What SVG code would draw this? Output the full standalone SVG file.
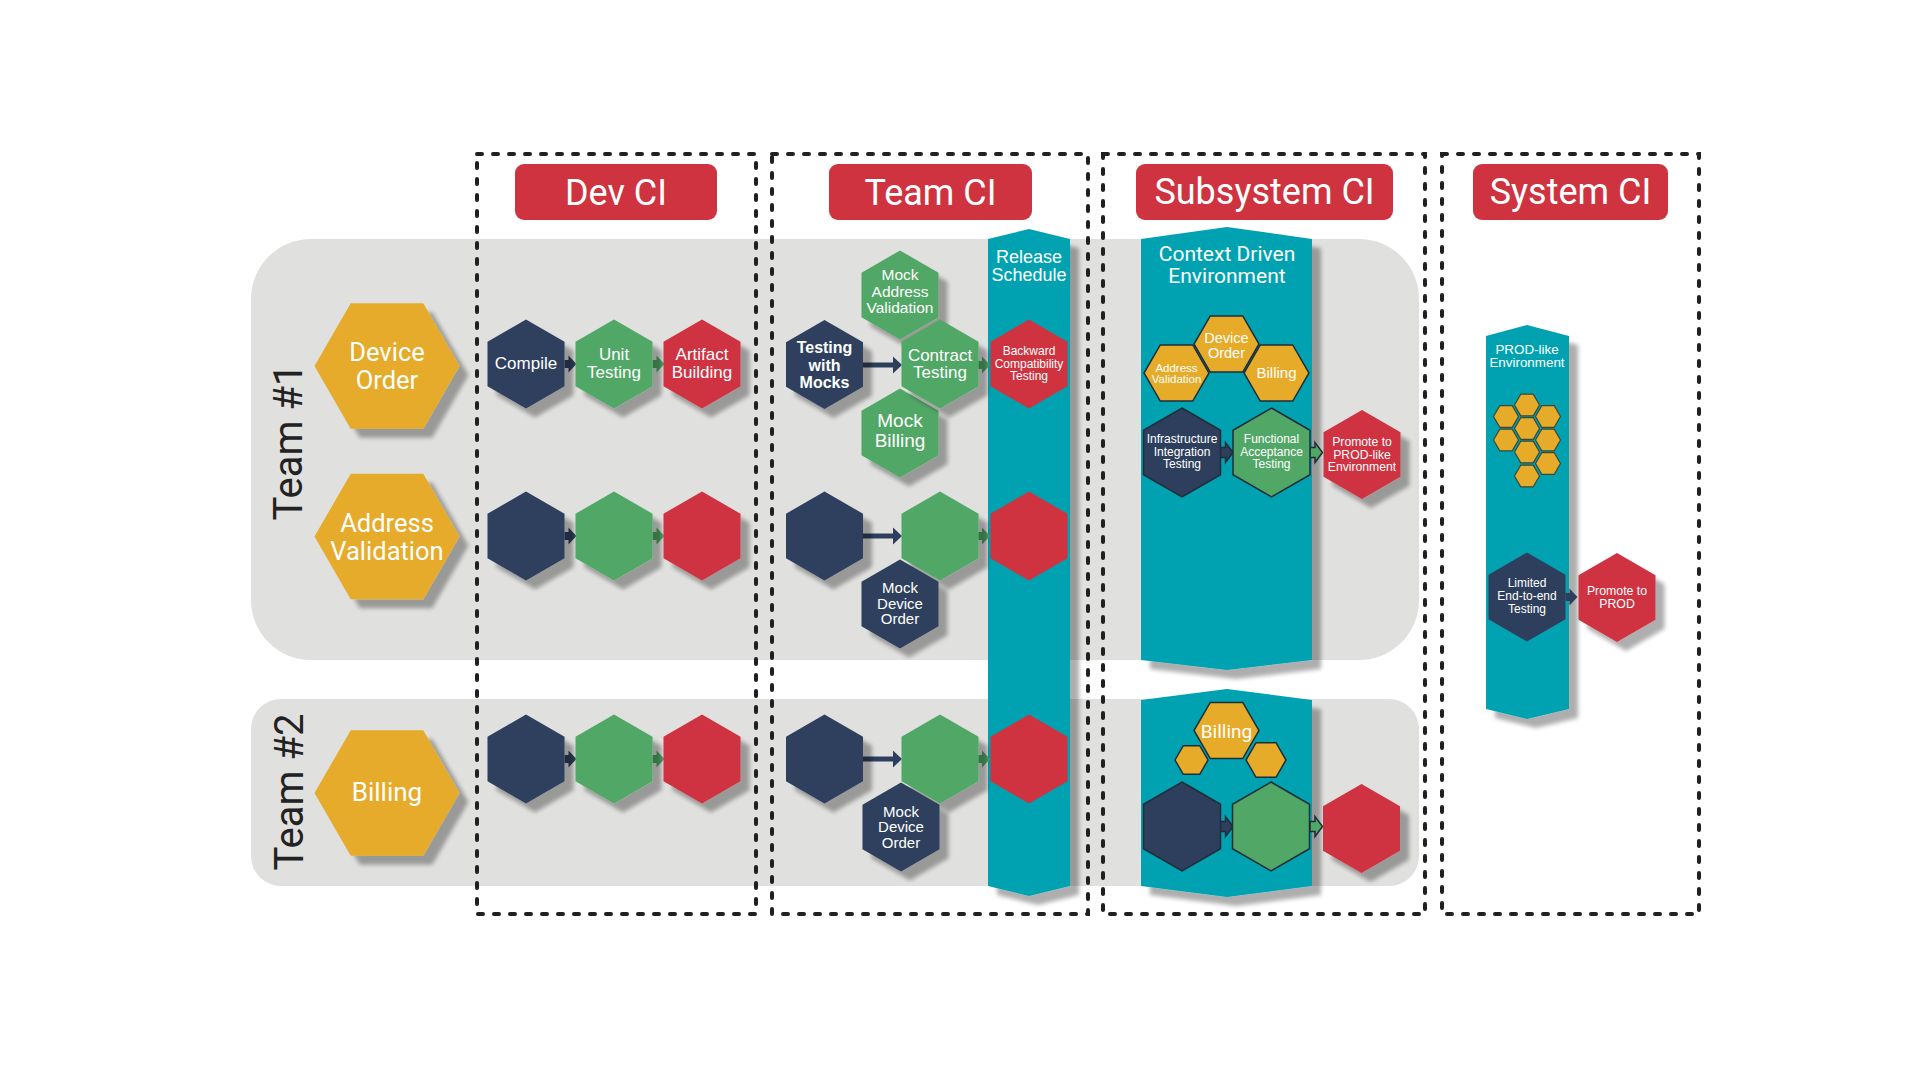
<svg xmlns="http://www.w3.org/2000/svg" xmlns:xlink="http://www.w3.org/1999/xlink" width="1920" height="1080" viewBox="0 0 1920 1080">
<style>
.navy{fill:#2e3f5d}
.green{fill:#51a766}
.red{fill:#cf3340}
.yellow{fill:#e6ab29}
.teal{fill:#00a2b2}
.panel{fill:#e0e0df}
.dot{fill:none;stroke:#1e2124;stroke-width:4;stroke-dasharray:5 11;stroke-linecap:round}
.ol{stroke:#1f2d38;stroke-width:1.5}
.olh{stroke:#3a4a3a;stroke-width:1.2}
.hdr{font-family:Roboto,"Liberation Sans",sans-serif;font-size:36px;fill:#fff;text-anchor:middle}
.team{font-family:Roboto,"Liberation Sans",sans-serif;font-size:40px;fill:#222;text-anchor:middle}
.rb{font-family:Roboto,"Liberation Sans",sans-serif;fill:#fff;text-anchor:middle}
.t{font-family:"Liberation Sans",Arial,sans-serif;fill:#fff;text-anchor:middle}
</style>
<defs>
<filter id="sh" x="-20%" y="-20%" width="160%" height="160%">
<feGaussianBlur in="SourceAlpha" stdDeviation="2.2"/>
<feOffset dx="9" dy="9"/>
<feComponentTransfer><feFuncA type="linear" slope="0.32"/></feComponentTransfer>
<feMerge><feMergeNode/><feMergeNode in="SourceGraphic"/></feMerge>
</filter>
<polygon id="hx" points="0,-44.5 38.5,-22.25 38.5,22.25 0,44.5 -38.5,22.25 -38.5,-22.25"/>
<polygon id="hbig" points="-72.5,0 -36.25,-62.8 36.25,-62.8 72.5,0 36.25,62.8 -36.25,62.8"/>
<polygon id="hy" points="-32.5,0 -16.25,-28.1 16.25,-28.1 32.5,0 16.25,28.1 -16.25,28.1"/>
<polygon id="hs" points="-12.5,0 -6.25,-10.8 6.25,-10.8 12.5,0 6.25,10.8 -6.25,10.8"/>
<polygon id="hs1" points="-16.5,0 -8.25,-14.3 8.25,-14.3 16.5,0 8.25,14.3 -8.25,14.3"/>
<polygon id="hs2" points="-20,0 -10,-17.3 10,-17.3 20,0 10,17.3 -10,17.3"/>
<path id="ba" d="M0,-4 H4 V-8.5 L12,0 L4,8.5 V4 H0 Z"/>
<path id="ba2" d="M0,-5 H5 V-10 L12.5,0 L5,10 V5 H0 Z"/>
</defs>

<g id="panels">
<rect class="panel" x="251" y="239" width="1168" height="421" rx="60"/>
<rect class="panel" x="251" y="699" width="1168" height="187" rx="30"/>
</g>

<g id="stages">
<rect class="dot" x="477" y="154" width="279" height="760"/>
<rect class="dot" x="772" y="154" width="316" height="760"/>
<rect class="dot" x="1103" y="154" width="322" height="760"/>
<rect class="dot" x="1442" y="154" width="257" height="760"/>
</g>

<g id="headers">
<g id="hdr-dev"><rect class="red" x="515" y="164" width="202" height="56" rx="9"/><text class="hdr" x="616" y="205">Dev CI</text></g>
<g id="hdr-team"><rect class="red" x="829" y="164" width="203" height="56" rx="9"/><text class="hdr" x="930.5" y="205">Team CI</text></g>
<g id="hdr-sub"><rect class="red" x="1136" y="164" width="257" height="56" rx="9"/><text class="hdr" x="1264.5" y="204">Subsystem CI</text></g>
<g id="hdr-sys"><rect class="red" x="1473" y="164" width="195" height="56" rx="9"/><text class="hdr" x="1570.5" y="204">System CI</text></g>
</g>

<g id="team-labels">
<text class="team" transform="translate(302,442) rotate(-90)">Team #1</text>
<text class="team" transform="translate(303,792) rotate(-90)">Team #2</text>
</g>

<g id="columns">
<g id="release-schedule">
<polygon class="teal" filter="url(#sh)" points="988,239 1029,229 1070,239 1070,886 1029,896 988,886"/>
<text class="t" font-size="18" x="1029" y="263">Release</text>
<text class="t" font-size="18" x="1029" y="281">Schedule</text>
</g>
<g id="context-env-1">
<polygon class="teal" filter="url(#sh)" points="1141,239 1227,227 1312,239 1312,660 1227,670 1141,660"/>
<text class="rb" font-size="21" x="1227" y="261">Context Driven</text>
<text class="rb" font-size="21" x="1227" y="283">Environment</text>
</g>
<g id="context-env-2">
<polygon class="teal" filter="url(#sh)" points="1141,700 1227,689 1312,700 1312,886 1227,897 1141,886"/>
</g>
<g id="prod-like-env">
<polygon class="teal" filter="url(#sh)" points="1486,336 1527,325 1569,336 1569,709 1527,719 1486,709"/>
<text class="t" font-size="13.4" x="1527" y="354">PROD-like</text>
<text class="t" font-size="13.4" x="1527" y="367">Environment</text>
</g>
</g>

<g id="connectors">
<use href="#ba" x="564.5" y="364" class="navy"/>
<use href="#ba" x="652.5" y="364" class="green"/>
<use href="#ba" x="564.5" y="536" class="navy"/>
<use href="#ba" x="652.5" y="536" class="green"/>
<use href="#ba" x="564.5" y="759" class="navy"/>
<use href="#ba" x="652.5" y="759" class="green"/>
<path class="navy" d="M862,362.5 H893 V356.5 L902,365 L893,373.5 V367.5 H862 Z"/>
<path class="navy" d="M862,533.5 H893 V527.5 L902,536 L893,544.5 V538.5 H862 Z"/>
<path class="navy" d="M862,756.5 H893 V750.5 L902,759 L893,767.5 V761.5 H862 Z"/>
<use href="#ba" x="978" y="365" class="green"/>
<use href="#ba" x="978" y="536" class="green"/>
<use href="#ba" x="978" y="759" class="green"/>
<use href="#ba2" x="1220.5" y="452.5" class="navy ol" stroke-width="1"/>
<use href="#ba2" x="1310" y="452.5" class="green ol" stroke-width="1"/>
<use href="#ba2" x="1220.5" y="826.5" class="navy ol" stroke-width="1"/>
<use href="#ba2" x="1310" y="826.5" class="green ol" stroke-width="1"/>
<use href="#ba" x="1565.5" y="597" class="navy"/>
</g>

<g id="n-device-order"><use href="#hbig" x="387" y="366" class="yellow" filter="url(#sh)"/>
<text class="rb" font-size="25.5" x="387" y="361">Device</text><text class="rb" font-size="25.5" x="387" y="388.5">Order</text></g>
<g id="n-address-validation"><use href="#hbig" x="387" y="536.5" class="yellow" filter="url(#sh)"/>
<text class="rb" font-size="25.5" x="387" y="532">Address</text><text class="rb" font-size="25.5" x="387" y="559.5">Validation</text></g>
<g id="n-billing"><use href="#hbig" x="387" y="793" class="yellow" filter="url(#sh)"/>
<text class="rb" font-size="26" x="387" y="801">Billing</text></g>

<g id="n-compile-1"><use href="#hx" x="526" y="364" class="navy" filter="url(#sh)"/><text class="t" font-size="17" x="526" y="369">Compile</text></g>
<g id="n-unit-1"><use href="#hx" x="614" y="364" class="green" filter="url(#sh)"/><text class="t" font-size="17" x="614" y="360">Unit</text><text class="t" font-size="17" x="614" y="378">Testing</text></g>
<g id="n-artifact-1"><use href="#hx" x="702" y="364" class="red" filter="url(#sh)"/><text class="t" font-size="17" x="702" y="360">Artifact</text><text class="t" font-size="17" x="702" y="378">Building</text></g>
<g id="n-compile-2"><use href="#hx" x="526" y="536" class="navy" filter="url(#sh)"/></g>
<g id="n-unit-2"><use href="#hx" x="614" y="536" class="green" filter="url(#sh)"/></g>
<g id="n-artifact-2"><use href="#hx" x="702" y="536" class="red" filter="url(#sh)"/></g>
<g id="n-compile-3"><use href="#hx" x="526" y="759" class="navy" filter="url(#sh)"/></g>
<g id="n-unit-3"><use href="#hx" x="614" y="759" class="green" filter="url(#sh)"/></g>
<g id="n-artifact-3"><use href="#hx" x="702" y="759" class="red" filter="url(#sh)"/></g>

<g id="n-mock-address"><use href="#hx" x="900" y="295" class="green" filter="url(#sh)"/>
<text class="t" font-size="15.5" x="900" y="280">Mock</text><text class="t" font-size="15.5" x="900" y="297">Address</text><text class="t" font-size="15.5" x="900" y="313">Validation</text></g>
<g id="n-mock-billing"><use href="#hx" x="900" y="433" class="green" filter="url(#sh)"/>
<text class="t" font-size="19" x="900" y="427">Mock</text><text class="t" font-size="19" x="900" y="447">Billing</text></g>
<g id="n-testing-mocks-1"><use href="#hx" x="824.5" y="364.5" class="navy" filter="url(#sh)"/>
<text class="t" font-size="16" font-weight="bold" x="824.5" y="353">Testing</text><text class="t" font-size="16" font-weight="bold" x="824.5" y="370.5">with</text><text class="t" font-size="16" font-weight="bold" x="824.5" y="388">Mocks</text></g>
<g id="n-contract-1"><use href="#hx" x="940" y="364" class="green" filter="url(#sh)"/>
<text class="t" font-size="17" x="940" y="361">Contract</text><text class="t" font-size="17" x="940" y="378">Testing</text></g>
<g id="n-backward-1"><use href="#hx" x="1029" y="364" class="red"/>
<text class="t" font-size="12" x="1029" y="355">Backward</text><text class="t" font-size="12" x="1029" y="368">Compatibility</text><text class="t" font-size="12" x="1029" y="380">Testing</text></g>

<g id="n-testing-mocks-2"><use href="#hx" x="824.5" y="536" class="navy" filter="url(#sh)"/></g>
<g id="n-contract-2"><use href="#hx" x="940" y="536" class="green" filter="url(#sh)"/></g>
<g id="n-mock-device-2"><use href="#hx" x="900" y="604" class="navy" filter="url(#sh)"/>
<text class="t" font-size="15" x="900" y="593">Mock</text><text class="t" font-size="15" x="900" y="609">Device</text><text class="t" font-size="15" x="900" y="624">Order</text></g>
<g id="n-backward-2"><use href="#hx" x="1029" y="536" class="red"/></g>

<g id="n-testing-mocks-3"><use href="#hx" x="824.5" y="759" class="navy" filter="url(#sh)"/></g>
<g id="n-contract-3"><use href="#hx" x="940" y="759" class="green" filter="url(#sh)"/></g>
<g id="n-mock-device-3"><use href="#hx" x="901" y="827" class="navy" filter="url(#sh)"/>
<text class="t" font-size="15" x="901" y="817">Mock</text><text class="t" font-size="15" x="901" y="832">Device</text><text class="t" font-size="15" x="901" y="848">Order</text></g>
<g id="n-backward-3"><use href="#hx" x="1029" y="759" class="red"/></g>

<g id="n-env-address"><use href="#hy" x="1176.5" y="373" class="yellow ol"/>
<text class="t" font-size="11.5" x="1176.5" y="372">Address</text><text class="t" font-size="11.5" x="1176.5" y="383">Validation</text></g>
<g id="n-env-billing"><use href="#hy" x="1276.5" y="373" class="yellow ol"/>
<text class="t" font-size="15" x="1276.5" y="378">Billing</text></g>
<g id="n-env-device"><use href="#hy" x="1226.5" y="344" class="yellow ol"/>
<text class="t" font-size="14.5" x="1226.5" y="343">Device</text><text class="t" font-size="14.5" x="1226.5" y="358">Order</text></g>
<g id="n-infra-1"><use href="#hx" x="1182" y="452.5" class="navy ol"/>
<text class="t" font-size="12" x="1182" y="443">Infrastructure</text><text class="t" font-size="12" x="1182" y="456">Integration</text><text class="t" font-size="12" x="1182" y="468">Testing</text></g>
<g id="n-functional-1"><use href="#hx" x="1271.5" y="452.5" class="green ol"/>
<text class="t" font-size="12" x="1271.5" y="443">Functional</text><text class="t" font-size="12" x="1271.5" y="456">Acceptance</text><text class="t" font-size="12" x="1271.5" y="468">Testing</text></g>
<g id="n-promote-prodlike-1"><use href="#hx" x="1362" y="454.5" class="red" filter="url(#sh)"/>
<text class="t" font-size="12.2" x="1362" y="446">Promote to</text><text class="t" font-size="12.2" x="1362" y="458.5">PROD-like</text><text class="t" font-size="12.2" x="1362" y="471">Environment</text></g>

<g id="n-env2-left"><use href="#hs1" x="1191.5" y="760" class="yellow ol"/></g>
<g id="n-env2-right"><use href="#hs2" x="1266" y="760" class="yellow ol"/></g>
<g id="n-env2-billing"><use href="#hy" x="1226.5" y="730.5" class="yellow ol"/>
<text class="rb" font-size="19" x="1226.5" y="738">Billing</text></g>
<g id="n-infra-2"><use href="#hx" x="1182" y="826.5" class="navy ol"/></g>
<g id="n-functional-2"><use href="#hx" x="1271" y="826.5" class="green ol"/></g>
<g id="n-promote-prodlike-2"><use href="#hx" x="1361.5" y="828.5" class="red" filter="url(#sh)"/></g>

<g id="n-prod-cluster">
<use href="#hs" x="1527" y="405" class="yellow olh"/>
<use href="#hs" x="1506" y="416.5" class="yellow olh"/>
<use href="#hs" x="1548" y="416.5" class="yellow olh"/>
<use href="#hs" x="1527" y="428.5" class="yellow olh"/>
<use href="#hs" x="1506" y="440" class="yellow olh"/>
<use href="#hs" x="1548" y="440" class="yellow olh"/>
<use href="#hs" x="1527" y="452" class="yellow olh"/>
<use href="#hs" x="1548" y="463.5" class="yellow olh"/>
<use href="#hs" x="1527" y="476" class="yellow olh"/>
</g>
<g id="n-limited-e2e"><use href="#hx" x="1527" y="597" class="navy"/>
<text class="t" font-size="12" x="1527" y="587">Limited</text><text class="t" font-size="12" x="1527" y="600">End-to-end</text><text class="t" font-size="12" x="1527" y="613">Testing</text></g>
<g id="n-promote-prod"><use href="#hx" x="1617" y="597.5" class="red" filter="url(#sh)"/>
<text class="t" font-size="12.3" x="1617" y="595">Promote to</text><text class="t" font-size="12.3" x="1617" y="608">PROD</text></g>
</svg>
